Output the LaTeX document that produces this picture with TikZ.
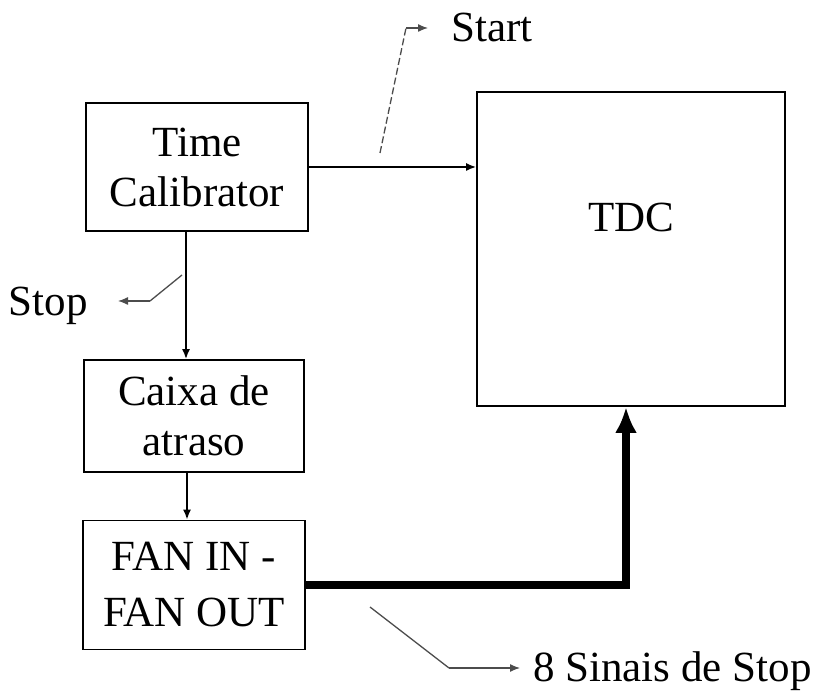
\documentclass[tikz,border=0pt]{standalone}
\usepackage{fontspec}
\setmainfont{Liberation Serif}
\usepackage{tikz}
\usetikzlibrary{positioning, arrows.meta}

\begin{document}
\begin{tikzpicture}[x=1pt, y=-1pt, >={Latex[length=10pt,width=8pt]},
    block/.style={draw, line width=1.8pt, rectangle, align=center, inner sep=0pt,
        font=\fontsize{43}{50}\selectfont},
    sigtext/.style={inner sep=0pt, font=\fontsize{43}{50}\selectfont},
    faint/.style={line width=1.3pt, draw=black!70}]

    \useasboundingbox (0,0) rectangle (828,692);

    \node[block, minimum width=222pt, minimum height=128pt] (tc) at (197,167) {Time\\Calibrator};
    \node[block, minimum width=308pt, minimum height=314pt] (tdc) at (631,249) {};
    \node[sigtext] (tdctext) at (631,217) {TDC};
    \node[block, minimum width=220pt, minimum height=112pt] (caixa) at (194,416) {Caixa de\\atraso};
    \node[block, minimum width=222pt, minimum height=129pt,
        font=\fontsize{43}{56}\selectfont] (fan) at (194,585) {FAN IN -\\FAN OUT};

    \node[sigtext, anchor=base west] (start) at (451,42) {Start};
    \node[sigtext, anchor=base east] (stop) at (88,316) {Stop};
    \node[sigtext, anchor=base west] (sinais) at (533,681) {8 Sinais de Stop};

    \coordinate (startfoot) at (380,153);
    \coordinate (startknee) at (406,28);
    \coordinate (stopfoot) at (182,275);
    \coordinate (stopknee) at (150,301);
    \coordinate (sinaisfoot) at (370,607);
    \coordinate (sinaisknee) at (449,668);

    % main signal path
    \draw[line width=1.6pt, ->] (tc.east) -- (tc.east -| tdc.west);
    \draw[line width=1.6pt, ->] ([xshift=-11pt]tc.south) -- ([xshift=-11pt]tc.south |- caixa.north);
    \draw[line width=1.6pt, ->] ([xshift=-7pt]caixa.south) -- ([xshift=-7pt]caixa.south |- fan.north);
    \draw[line width=8pt, -{Latex[length=26pt,width=22pt]}] (fan.east) -| ([xshift=-5pt]tdc.south);

    % signal labels
    \draw[faint, dash pattern=on 7pt off 3pt] (startfoot) -- (startknee);
    \draw[faint, ->, shorten >=23pt] (startknee) -- (startknee -| start.west);
    \draw[faint] (stopfoot) -- (stopknee);
    \draw[faint, ->, shorten >=30pt] (stopknee) -- (stopknee -| stop.east);
    \draw[faint] (sinaisfoot) -- (sinaisknee);
    \draw[faint, ->, shorten >=13pt] (sinaisknee) -- (sinaisknee -| sinais.west);
\end{tikzpicture}
\end{document}
